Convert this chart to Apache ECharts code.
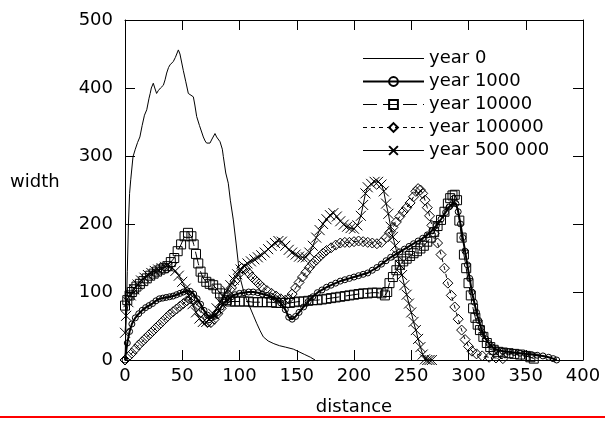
<!DOCTYPE html>
<html>
<head>
<meta charset="utf-8">
<script src="https://cdn.jsdelivr.net/npm/echarts@6/dist/echarts.min.js"></script>
<style>
html,body{margin:0;padding:0;background:#fff;}
#chart{width:605px;height:425px;}
</style>
</head>
<body>
<div id="chart"></div>
<script>
// ---- data (distance, width) ----
const seriesNames = ['year 0', 'year 1000', 'year 10000', 'year 100000', 'year 500 000'];
const xTicks = [0, 50, 100, 150, 200, 250, 300, 350, 400];
const yTicks = [0, 100, 200, 300, 400, 500];

const year0 = [[0,0],[1,60],[2,130],[3,200],[4,245],[5,265],[7,299],[9,310],[11,320],[13,328],[15,345],[17,360],[19,368],[21,385],[22,392],[23,400],[24.7,407],[26,400],[27.6,392],[29,396],[31,400],[33.5,404],[35,412],[36.4,422],[38,430],[39.3,434],[41,436],[42.2,439],[44,445],[45,447],[46.6,456],[48,450],[50.9,426],[53,410],[55.3,392],[57,390],[59.7,387],[61,375],[62.6,358],[65,345],[68.4,328],[70,322],[71.3,319],[73,318],[74.2,319],[76,325],[78.6,333],[80,328],[83,321],[85,310],[85.9,299],[88,275],[90.2,260],[92,235],[94.6,206],[97,172],[99,142],[101,118],[103.3,103],[106,90],[109,78],[112,66],[115,54],[118,43],[120.8,34],[125,28],[130,24],[135,21],[140,19],[147,16],[152,12],[157,8],[162,4],[166,0]];

const year1000 = [[0,0],[2,25],[4,42],[6,53],[9,62],[12,68],[15,73],[18,77],[21,80],[24,83],[27,87],[30,90],[33,91],[36,92],[39,93],[42,94],[45,96],[48,98],[51,100],[54,102],[57,101],[60,97],[63,90],[66,82],[69,73],[72,66],[75,62],[78,64],[81,70],[84,78],[87,85],[90,89],[93,93],[96,96],[100,98],[104,99],[108,100],[112,100],[116,99],[120,97],[124,95],[128,93],[132,90],[136,84],[140,74],[143,63],[146,60],[149,64],[152,70],[156,78],[160,86],[164,93],[168,99],[172,103],[176,107],[180,110],[184,113],[188,116],[192,118],[196,120],[200,122],[204,124],[208,126],[212,128],[216,132],[220,136],[224,141],[228,146],[232,151],[236,155],[240,159],[244,163],[248,167],[252,171],[256,175],[260,179],[264,184],[268,190],[272,198],[276,207],[280,217],[283,225],[286,230],[289,230],[291,218],[293,200],[295,180],[297,160],[299,140],[301,120],[303,100],[305,85],[307,70],[309,58],[311,47],[313,38],[315,31],[318,24],[321,19],[325,15],[330,13],[335,12],[340,11],[345,10],[350,9],[355,8],[360,7],[365,6],[370,4],[374,2],[377,0]];

const year10000 = [[0,80],[2,88],[4,95],[6,100],[8,104],[10,108],[13,112],[16,116],[19,120],[22,124],[25,127],[28,130],[31,133],[34,135],[37,138],[40,144],[43,150],[46,160],[49,170],[52,182],[55,187],[58,182],[60,170],[62,156],[64,142],[66,130],[68,121],[71,115],[74,112],[77,110],[80,105],[83,98],[86,92],[89,88],[92,86],[96,86],[100,86],[104,86],[108,86],[112,85],[116,85],[120,85],[124,85],[128,85],[132,84],[136,84],[140,84],[144,84],[148,85],[152,86],[156,86],[160,87],[164,88],[168,88],[172,89],[176,90],[180,91],[184,92],[188,93],[192,94],[196,95],[200,96],[204,97],[208,98],[212,98],[216,99],[220,99],[224,98],[227,95],[229,100],[231,113],[234,122],[237,132],[240,140],[243,145],[246,149],[249,153],[252,157],[255,160],[258,164],[261,168],[264,174],[267,180],[270,188],[273,197],[276,206],[279,218],[282,230],[284,238],[286,242],[288,243],[290,235],[292,205],[294,180],[296,155],[298,135],[300,113],[302,95],[304,76],[306,62],[308,52],[310,44],[313,34],[316,25],[319,19],[322,15],[326,12],[330,11],[335,10],[340,9],[345,8],[350,6],[354,4],[357,2]];

const year100000 = [[0,0],[3,5],[6,10],[9,16],[12,22],[15,27],[18,32],[21,37],[24,42],[27,47],[30,52],[33,57],[36,62],[39,67],[42,71],[45,75],[48,79],[51,83],[54,87],[57,90],[60,88],[63,80],[66,70],[69,60],[72,55],[75,55],[78,60],[81,68],[84,76],[87,86],[90,96],[93,106],[96,116],[99,126],[102,135],[105,134],[108,128],[111,122],[114,117],[117,112],[120,107],[124,102],[128,98],[132,94],[136,90],[140,88],[143,90],[146,97],[149,106],[152,114],[155,122],[158,129],[161,136],[164,142],[167,147],[170,152],[173,157],[176,161],[180,165],[184,169],[188,172],[192,173],[196,173],[200,174],[204,175],[208,174],[212,173],[216,172],[220,171],[224,173],[228,180],[231,187],[234,195],[237,203],[240,211],[243,218],[246,224],[249,231],[252,240],[254,248],[256,252],[258,250],[260,245],[262,235],[264,224],[266,212],[268,198],[270,186],[273,172],[276,155],[279,135],[282,113],[285,95],[288,78],[291,60],[294,44],[297,30],[300,20],[303,13],[307,9],[312,6],[318,4],[324,3],[330,2]];

const year500000 = [[0,40],[1,65],[3,85],[5,95],[8,104],[11,111],[14,117],[17,121],[20,125],[23,128],[26,131],[29,133],[32,135],[35,137],[38,137],[41,135],[44,131],[47,124],[50,115],[53,105],[56,94],[59,82],[62,70],[65,61],[68,56],[71,56],[74,60],[77,68],[80,76],[83,85],[86,94],[89,102],[92,110],[95,118],[98,126],[101,133],[104,138],[107,142],[110,145],[113,148],[116,151],[119,154],[122,158],[125,163],[128,168],[131,172],[134,175],[137,174],[140,168],[143,162],[146,158],[149,155],[152,152],[155,151],[158,151],[161,158],[164,168],[167,180],[170,191],[173,200],[176,207],[179,213],[182,216],[185,211],[188,204],[191,199],[194,196],[197,194],[200,193],[203,198],[206,212],[208,228],[210,245],[212,254],[215,259],[218,262],[221,262],[224,258],[226,248],[228,230],[230,215],[232,196],[234,181],[236,168],[238,154],[240,140],[242,125],[244,110],[246,96],[248,83],[250,70],[252,56],[254,44],[256,31],[258,19],[260,8],[262,1],[264,0],[266,0],[268,0]];

// ---- chart ----
const FONT = 'DejaVu Sans, sans-serif';
const FS = 18;
const chart = echarts.init(document.getElementById('chart'), null, {renderer: 'canvas'});
const hollow = {color: 'rgba(0,0,0,0)', borderColor: '#000', borderWidth: 1};
const axisCommon = {
  axisLine: {show: true, onZero: false, lineStyle: {color: '#000', width: 1}},
  axisTick: {show: true, inside: true, length: 10, lineStyle: {color: '#000', width: 1}},
  splitLine: {show: false}
};
const xMin = xTicks[0], xMax = xTicks[xTicks.length - 1], xInt = xTicks[1] - xTicks[0];
const yMin = yTicks[0], yMax = yTicks[yTicks.length - 1], yInt = yTicks[1] - yTicks[0];

const option = {
  animation: false,
  backgroundColor: '#fff',
  grid: {left: 125, right: 22, top: 20, bottom: 65, containLabel: false},
  xAxis: [
    Object.assign({type: 'value', position: 'bottom', min: xMin, max: xMax, interval: xInt,
      axisLabel: {color: '#000', fontSize: FS, fontFamily: FONT, margin: 7},
      name: 'distance', nameLocation: 'middle', nameGap: 38,
      nameTextStyle: {color: '#000', fontSize: FS, fontFamily: FONT}}, axisCommon),
    Object.assign({type: 'value', position: 'top', min: xMin, max: xMax, interval: xInt,
      axisLabel: {show: false}}, axisCommon)
  ],
  yAxis: [
    Object.assign({type: 'value', position: 'left', min: yMin, max: yMax, interval: yInt,
      axisLabel: {color: '#000', fontSize: FS, fontFamily: FONT, margin: 12}}, axisCommon),
    Object.assign({type: 'value', position: 'right', min: yMin, max: yMax, interval: yInt,
      axisLabel: {show: false}}, axisCommon)
  ],
  legend: {
    orient: 'vertical', left: 362, top: 49.5, padding: 0,
    itemWidth: 61, itemHeight: 11, itemGap: 5,
    textStyle: {color: '#000', fontSize: FS, fontFamily: FONT},
    lineStyle: {width: 'inherit', type: 'inherit'},
    data: [
      {name: seriesNames[0], itemStyle: {color: 'rgba(0,0,0,0)', borderWidth: 0, borderColor: 'rgba(0,0,0,0)'}},
      {name: seriesNames[1]},
      {name: seriesNames[2]},
      {name: seriesNames[3]},
      {name: seriesNames[4]}
    ]
  },
  graphic: [
    {type: 'text', left: 10, top: 173, style: {text: 'width', fill: '#000', font: FS + 'px ' + FONT}},
    {type: 'rect', left: 0, top: 416, shape: {width: 605, height: 2}, style: {fill: '#ff0000'}}
  ],
  series: [
    {name: seriesNames[0], type: 'line', data: year0, symbol: 'none', showSymbol: false,
      lineStyle: {color: '#000', width: 1}, itemStyle: {color: '#000'}},
    {name: seriesNames[1], type: 'line', data: year1000, symbol: 'circle', symbolSize: 6,
      lineStyle: {color: '#000', width: 2}, itemStyle: hollow},
    {name: seriesNames[2], type: 'line', data: year10000, symbol: 'rect', symbolSize: 9,
      lineStyle: {color: '#000', width: 1, type: [14, 6]}, itemStyle: hollow},
    {name: seriesNames[3], type: 'line', data: year100000, symbol: 'diamond', symbolSize: 10,
      lineStyle: {color: '#000', width: 1, type: [4, 4]}, itemStyle: hollow},
    {name: seriesNames[4], type: 'line', data: year500000, symbol: 'path://M0,0L10,10M10,0L0,10', symbolSize: 10,
      lineStyle: {color: '#000', width: 1}, itemStyle: hollow}
  ]
};
chart.setOption(option);
</script>
</body>
</html>
